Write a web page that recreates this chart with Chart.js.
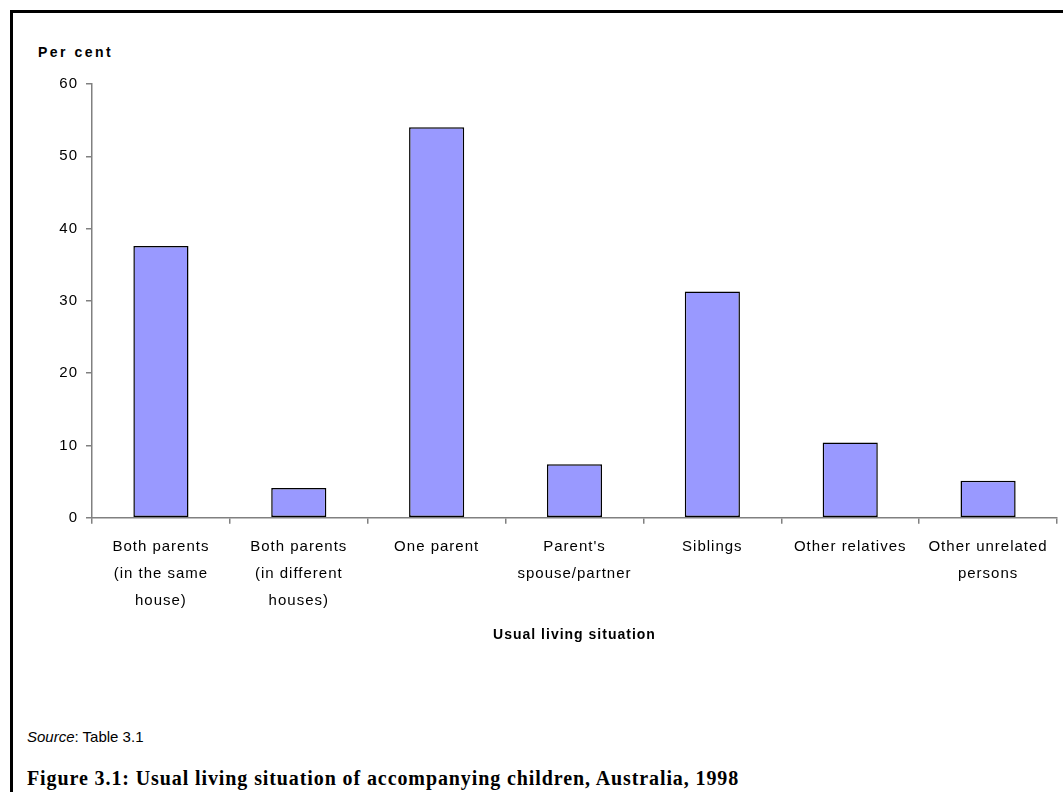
<!DOCTYPE html>
<html>
<head>
<meta charset="utf-8">
<script src="https://cdn.jsdelivr.net/npm/chart.js@4.4.1/dist/chart.umd.min.js"></script>
<style>
html, body { margin: 0; padding: 0; background: #fff; }
body { width: 1063px; height: 792px; position: relative; overflow: hidden; font-family: "Liberation Sans", Arial, sans-serif; color: #000; }
#frame { position: absolute; left: 10px; top: 10px; width: 1060px; height: 800px; border-left: 3px solid #000; border-top: 3px solid #000; }
#wrap { position: absolute; left: 13px; top: 13px; width: 1050px; height: 640px; }
#ytitle { position: absolute; left: 38px; top: 44px; font-weight: bold; font-size: 14px; letter-spacing: 2.5px; }
#source { position: absolute; left: 27px; top: 728px; font-size: 15px; }
#caption { position: absolute; left: 27px; top: 767px; font-family: "Liberation Serif", serif; font-weight: bold; font-size: 20px; letter-spacing: 0.9px; white-space: nowrap; }
</style>
</head>
<body>
<div id="frame"></div>
<div id="ytitle">Per cent</div>
<div id="wrap"><canvas id="myChart"></canvas></div>
<div id="source"><i>Source</i>: Table 3.1</div>
<div id="caption">Figure 3.1: Usual living situation of accompanying children, Australia, 1998</div>
<script>
// data
const categories = [
  ['Both parents', '(in the same', 'house)'],
  ['Both parents', '(in different', 'houses)'],
  'One parent',
  ["Parent's", 'spouse/partner'],
  'Siblings',
  'Other relatives',
  ['Other unrelated', 'persons']
];
const percent = [37.6, 4.1, 54.0, 7.4, 31.3, 10.4, 5.1];
const yTicks = [0, 10, 20, 30, 40, 50, 60];

Chart.defaults.font.family = '"Liberation Sans", Arial, sans-serif';
Chart.defaults.color = '#000';

// old Excel look: text is spread out a bit
const spacing = {
  id: 'spacing',
  beforeLayout(chart) { chart.ctx.letterSpacing = '1px'; },
  beforeDraw(chart) { chart.ctx.letterSpacing = '1px'; }
};

new Chart(document.getElementById('myChart'), {
  type: 'bar',
  data: {
    labels: categories,
    datasets: [{
      data: percent,
      backgroundColor: '#9999FF',
      borderColor: '#000',
      borderWidth: 1.5,
      borderSkipped: false,
      categoryPercentage: 1,
      barPercentage: 0.4
    }]
  },
  options: {
    responsive: true,
    maintainAspectRatio: false,
    animation: false,
    layout: { padding: { left: 0, top: 71, right: 6, bottom: 9.6 } },
    plugins: { legend: { display: false }, tooltip: { enabled: false } },
    scales: {
      x: {
        afterFit: s => { s.height = 125.7; },
        grid: { drawOnChartArea: false, tickLength: 6, color: '#808080', lineWidth: 1.5 },
        border: { color: '#808080', width: 1.5 },
        ticks: { font: { size: 15, lineHeight: 1.8 }, padding: 10, maxRotation: 0, autoSkip: false },
        title: {
          display: true,
          text: 'Usual living situation',
          font: { size: 14, weight: 'bold' },
          padding: { top: 0, bottom: 0 }
        }
      },
      y: {
        min: yTicks[0],
        max: yTicks[yTicks.length - 1],
        afterFit: s => { s.width = 79; },
        afterBuildTicks: s => { s.ticks = yTicks.map(v => ({ value: v })); },
        grid: { drawOnChartArea: false, tickLength: 6, color: '#808080', lineWidth: 1.5 },
        border: { color: '#808080', width: 1.5 },
        ticks: { font: { size: 15 }, padding: 8 }
      }
    }
  },
  plugins: [spacing]
});
</script>
</body>
</html>
